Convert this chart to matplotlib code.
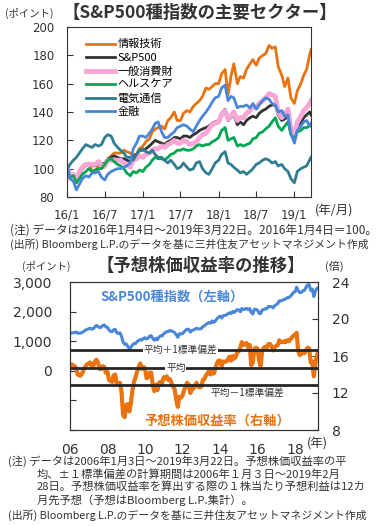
import numpy as np
import pandas as pd
import matplotlib
matplotlib.use("Agg")
import matplotlib.pyplot as plt

plt.rcParams['font.family'] = ['Noto Sans CJK JP', 'DejaVu Sans']
TXT = '#333333'

# ---- top chart data (2016/1/4 = 100), about twice a month ----
top_dates = list(pd.date_range('2016-01-01', '2019-03-15', freq='SMS'))
top_dates[0] = pd.Timestamp('2016-01-04')
top_dates.append(pd.Timestamp('2019-03-22'))

it_sector = [100, 93, 96, 90, 96, 100, 103, 104, 98, 98, 102, 101, 101, 106, 109, 111, 111, 111, 113, 112, 111, 110, 110, 114,
             116, 119, 121, 126, 128, 129, 130, 128, 134, 136, 140, 134, 134, 139, 141, 140, 144, 146, 148, 151, 157, 156, 158, 160,
             160, 167, 170, 152, 165, 174, 160, 165, 164, 170, 174, 177, 173, 178, 180, 181, 187, 185, 186, 172, 166, 158, 164, 150,
             146, 155, 160, 166, 170, 180, 184]
sp500 = [100, 95, 96, 91, 97, 100, 102, 103, 102, 102, 104, 103, 104, 107, 108, 109, 108, 107, 107, 106, 105, 108, 110, 113,
         113, 114, 116, 118, 120, 119, 118, 117, 119, 120, 122, 122, 121, 123, 123, 122, 124, 125, 127, 128, 129, 130, 132, 133,
         134, 139, 142, 134, 136, 138, 131, 133, 131, 134, 136, 137, 136, 139, 141, 142, 144, 145, 145, 138, 134, 135, 137, 126,
         120, 129, 132, 136, 138, 140, 138]
cons_disc = [100, 94, 96, 92, 98, 101, 103, 103, 103, 103, 105, 102, 102, 106, 106, 106, 106, 106, 104, 103, 101, 106, 107, 109,
             108, 110, 111, 113, 114, 114, 116, 115, 117, 118, 120, 118, 118, 120, 119, 117, 118, 119, 122, 124, 125, 128, 131, 132,
             133, 138, 141, 135, 137, 140, 134, 136, 136, 139, 141, 144, 143, 146, 148, 150, 153, 152, 151, 140, 136, 138, 142, 128,
             124, 133, 137, 141, 143, 146, 148]
health = [100, 94, 95, 90, 93, 96, 98, 100, 98, 99, 100, 100, 103, 106, 107, 105, 103, 102, 100, 97, 95, 98, 97, 99,
          98, 101, 103, 106, 108, 107, 107, 106, 108, 110, 111, 113, 113, 114, 113, 113, 114, 116, 117, 116, 117, 117, 119, 120,
          122, 127, 129, 120, 121, 122, 116, 117, 116, 117, 118, 121, 122, 125, 126, 128, 130, 133, 136, 130, 127, 130, 133, 124,
          121, 126, 127, 129, 129, 130, 131]
telecom = [100, 103, 106, 108, 111, 114, 117, 116, 115, 117, 116, 117, 122, 124, 123, 118, 115, 113, 111, 108, 108, 106, 110, 113,
           114, 112, 111, 113, 110, 108, 108, 106, 104, 106, 103, 100, 101, 104, 101, 99, 100, 104, 105, 100, 97, 96, 100, 104,
           106, 110, 112, 104, 103, 101, 99, 97, 98, 96, 98, 100, 103, 104, 106, 107, 106, 104, 105, 102, 103, 100, 98, 93,
           90, 98, 100, 101, 102, 106, 108]
financial = [100, 93, 91, 85, 89, 93, 95, 94, 97, 97, 98, 94, 92, 96, 98, 99, 100, 100, 101, 102, 104, 114, 118, 123,
             123, 122, 125, 128, 132, 133, 126, 122, 122, 124, 126, 129, 130, 131, 130, 128, 126, 130, 134, 137, 140, 143, 147, 150,
             151, 157, 159, 148, 151, 150, 143, 144, 144, 145, 143, 146, 142, 145, 148, 150, 149, 146, 145, 140, 141, 137, 138, 125,
             118, 127, 130, 133, 134, 130, 132]

top_series = [('情報技術', it_sector, '#e8730f', 2.0),
              ('S&P500', sp500, '#333333', 2.0),
              ('一般消費財', cons_disc, '#f8a6d6', 3.5),
              ('ヘルスケア', health, '#00a650', 2.0),
              ('電気通信', telecom, '#2f7d92', 2.0),
              ('金融', financial, '#4a86d8', 2.0)]
top_xticks = ['2016-01-01', '2016-07-01', '2017-01-01', '2017-07-01', '2018-01-01', '2018-07-01', '2019-01-01']
top_xlabels = ['16/1', '16/7', '17/1', '17/7', '18/1', '18/7', '19/1']

# ---- bottom chart data, monthly ----
bot_dates = ([pd.Timestamp('2006-01-03')] + list(pd.date_range('2006-01-31', '2019-02-28', freq='ME'))
             + [pd.Timestamp('2019-03-22')])
spx = [1269,
       1280, 1281, 1295, 1311, 1270, 1270, 1277, 1304, 1336, 1378, 1401, 1418,
       1438, 1407, 1421, 1482, 1531, 1503, 1455, 1474, 1527, 1549, 1481, 1468,
       1379, 1331, 1323, 1386, 1400, 1280, 1267, 1283, 1166, 969, 896, 903,
       826, 735, 798, 873, 919, 919, 987, 1021, 1057, 1036, 1096, 1115,
       1074, 1104, 1169, 1187, 1089, 1031, 1102, 1049, 1141, 1183, 1181, 1258,
       1286, 1327, 1326, 1364, 1345, 1321, 1292, 1219, 1131, 1253, 1247, 1258,
       1312, 1366, 1408, 1398, 1310, 1362, 1379, 1407, 1441, 1412, 1416, 1426,
       1498, 1515, 1569, 1598, 1631, 1606, 1686, 1633, 1682, 1757, 1806, 1848,
       1783, 1859, 1872, 1884, 1924, 1960, 1931, 2003, 1972, 2018, 2068, 2059,
       1995, 2105, 2068, 2086, 2107, 2063, 2104, 1972, 1920, 2079, 2080, 2044,
       1940, 1932, 2060, 2065, 2097, 2099, 2174, 2171, 2168, 2126, 2199, 2239,
       2279, 2364, 2363, 2384, 2412, 2423, 2470, 2472, 2519, 2575, 2648, 2674,
       2824, 2714, 2641, 2648, 2705, 2718, 2816, 2902, 2914, 2712, 2760, 2507,
       2704, 2784,
       2800]
fwd_pe = [15.0,
          15.1, 15.0, 14.9, 14.7, 14.0, 13.9, 13.9, 14.2, 14.6, 14.9, 15.1, 15.2,
          15.3, 14.8, 14.9, 15.4, 15.6, 15.3, 14.6, 14.6, 14.9, 14.8, 14.2, 14.3,
          13.4, 13.3, 13.2, 13.9, 14.0, 12.9, 12.9, 13.1, 12.1, 9.6, 9.4, 10.7,
          10.8, 10.0, 10.9, 12.3, 13.2, 13.7, 14.3, 14.8, 15.2, 14.6, 14.8, 14.7,
          13.6, 13.7, 14.2, 14.2, 12.9, 12.2, 12.9, 12.3, 13.1, 13.2, 13.1, 13.7,
          13.6, 13.8, 13.4, 13.5, 13.1, 12.7, 12.4, 11.3, 10.5, 11.6, 11.5, 11.7,
          12.3, 12.7, 13.1, 12.9, 12.0, 12.4, 12.5, 12.8, 13.1, 12.7, 12.6, 12.7,
          13.4, 13.5, 13.9, 14.1, 14.4, 14.0, 14.6, 14.1, 14.6, 15.2, 15.5, 15.5,
          14.9, 15.4, 15.4, 15.4, 15.6, 15.9, 15.5, 16.0, 15.7, 15.9, 16.4, 16.5,
          16.9, 17.5, 17.2, 17.3, 17.4, 16.9, 17.2, 15.0, 15.3, 16.8, 16.9, 16.8,
          15.5, 14.9, 16.6, 16.9, 17.0, 16.9, 17.3, 17.3, 17.0, 16.6, 17.0, 17.1,
          17.2, 17.7, 17.5, 17.5, 17.6, 17.5, 17.7, 17.6, 17.8, 18.0, 18.2, 18.3,
          18.5, 16.6, 16.1, 16.2, 16.4, 16.3, 16.6, 16.9, 16.8, 15.3, 15.4, 13.8,
          15.3, 16.0,
          16.4]
pe_mean = 14.75
pe_std = 1.9
bot_xticks = ['2006-01-01', '2008-01-01', '2010-01-01', '2012-01-01', '2014-01-01', '2016-01-01', '2018-01-01']
bot_xlabels = ['06', '08', '10', '12', '14', '16', '18']

fig = plt.figure(figsize=(3.91, 5.26), dpi=100)

# ================= top chart =================
ax = fig.add_axes([67/391, 1-197/526, 244/391, 170/526])
for name, vals, col, lw in top_series:
    ax.plot(top_dates, vals, color=col, lw=lw, label=name)
ax.set_xlim(pd.Timestamp('2016-01-04'), pd.Timestamp('2019-03-22'))
ax.set_ylim(80, 200)
ax.set_yticks(np.arange(80, 201, 20))
ax.set_xticks([pd.Timestamp(d) for d in top_xticks])
ax.set_xticklabels(top_xlabels)
ax.tick_params(direction='in', length=4, labelsize=8.5, labelcolor=TXT, color=TXT)
ax.tick_params(axis='x', pad=8)
ax.tick_params(axis='y', pad=9)
for lab in ax.get_xticklabels() + ax.get_yticklabels():
    lab.set_family('DejaVu Sans')
for s in ax.spines.values():
    s.set_color(TXT)
ax.legend(loc='upper left', bbox_to_anchor=(0.06, 0.955), frameon=False, fontsize=8,
          handlelength=2.6, handletextpad=0.2, labelspacing=0.3, borderaxespad=0)

fig.text(5/391, 1-13/526, '(ポイント)', fontsize=7.5, color=TXT, va='center')
fig.text(62/391, 1-13/526, '【S&P500種指数の主要セクター】', fontsize=12.5, weight='bold', color=TXT, va='center')
fig.text(315/391, 1-211/526, '(年/月)', fontsize=9, color=TXT, va='center')
fig.text(10/391, 1-230/526, '(注) データは2016年1月4日～2019年3月22日。2016年1月4日＝100。', fontsize=8.5, color=TXT, va='center')
fig.text(10/391, 1-244/526, '(出所) Bloomberg L.P.のデータを基に三井住友アセットマネジメント作成', fontsize=7.8, color=TXT, va='center')

# ================= bottom chart =================
ax2 = fig.add_axes([70/391, 1-430/526, 248/391, 148/526])
ax2.plot(bot_dates, spx, color='#4a86d8', lw=2.2)
ax2.set_ylim(-2000, 3000)
ax2.set_yticks(np.arange(-2000, 3001, 1000))
ax2.set_yticklabels(['', '', '0', '1,000', '2,000', '3,000'])
ax2.set_xlim(pd.Timestamp('2006-01-03'), pd.Timestamp('2019-03-22'))
ax2.set_xticks([pd.Timestamp(d) for d in bot_xticks])
ax2.set_xticklabels(bot_xlabels)
ax2.tick_params(axis='y', direction='in', length=4, labelsize=10, labelcolor=TXT, color=TXT, pad=13)
ax2.tick_params(axis='x', length=0, labelsize=10, labelcolor=TXT, pad=9)

ax3 = ax2.twinx()
ax3.plot(bot_dates, fwd_pe, color='#e8730f', lw=3)
for lvl in [pe_mean + pe_std, pe_mean, pe_mean - pe_std]:
    ax3.axhline(lvl, color='#262626', lw=2, zorder=3)
ax3.set_ylim(8, 24)
ax3.set_yticks(np.arange(8, 25, 4))
ax3.tick_params(direction='in', length=4, labelsize=10, labelcolor=TXT, color=TXT, pad=10)
for a in (ax2, ax3):
    for lab in a.get_xticklabels() + a.get_yticklabels():
        lab.set_family('DejaVu Sans')
    for s in a.spines.values():
        s.set_color(TXT)

bb = dict(facecolor='white', edgecolor='none', pad=0.5)
ax3.text(0.444, pe_mean + pe_std, '平均＋1標準偏差', transform=ax3.get_yaxis_transform(),
         ha='center', va='center', fontsize=7, color=TXT, bbox=bb, zorder=4)
ax3.text(0.427, pe_mean, '平均', transform=ax3.get_yaxis_transform(),
         ha='center', va='center', fontsize=7, color=TXT, bbox=bb, zorder=4)
ax3.text(0.714, pe_mean - pe_std - 0.85, '平均－1標準偏差', transform=ax3.get_yaxis_transform(),
         ha='center', va='center', fontsize=7, color=TXT, zorder=4)
ax3.text(0.41, 0.90, 'S&P500種指数（左軸）', transform=ax3.transAxes, ha='center', va='center',
         fontsize=9.5, weight='bold', color='#4a86d8')
ax3.text(0.594, 0.06, '予想株価収益率（右軸）', transform=ax3.transAxes, ha='center', va='center',
         fontsize=9.5, weight='bold', color='#e8730f')

fig.text(22/391, 1-266/526, '(ポイント)', fontsize=7.5, color=TXT, va='center')
fig.text(97/391, 1-266/526, '【予想株価収益率の推移】', fontsize=12.5, weight='bold', color=TXT, va='center')
fig.text(325/391, 1-266/526, '(倍)', fontsize=8, color=TXT, va='center')
fig.text(307/391, 1-444/526, '(年)', fontsize=9, color=TXT, va='center')

notes = [(8, 461, '(注) データは2006年1月3日～2019年3月22日。予想株価収益率の平', 8.1),
         (37, 474, '均、±１標準偏差の計算期間は2006年１月３日～2019年2月', 8.1),
         (37, 487, '28日。予想株価収益率を算出する際の１株当たり予想利益は12カ', 8.1),
         (37, 500, '月先予想（予想はBloomberg L.P.集計）。', 8.1),
         (8, 515, '(出所) Bloomberg L.P.のデータを基に三井住友アセットマネジメント作成', 7.8)]
for x, y, t, fs in notes:
    fig.text(x/391, 1-y/526, t, fontsize=fs, color=TXT, va='center')

fig.savefig('out.png', dpi=100)
